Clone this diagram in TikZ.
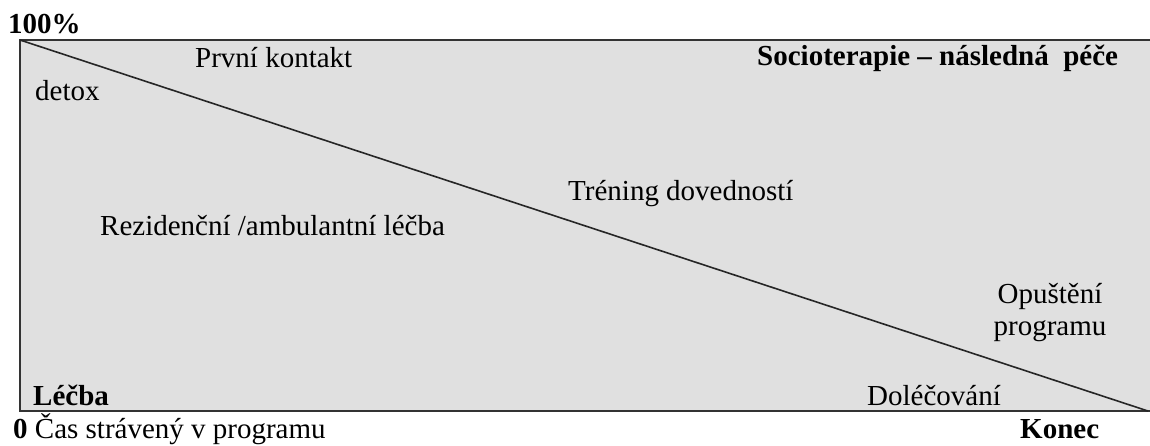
\documentclass[tikz,border=0pt]{standalone}
\usepackage{fontspec}
\setmainfont{Liberation Serif}
\begin{document}
\begin{tikzpicture}[x=1pt,y=-1pt,
  lbl/.style={inner sep=0pt, anchor=base west, font=\fontsize{29}{33}\selectfont},
  blbl/.style={inner sep=0pt, anchor=base west, font=\fontsize{29}{33}\selectfont\bfseries},
  border/.style={line width=1.6pt, draw=black!80},
  diag/.style={line width=1.6pt, draw=black!85}]
\useasboundingbox (0,0) rectangle (1150,445);
\fill[white] (0,0) rectangle (1150,445);
\coordinate (tl) at (20,40);
\coordinate (tr) at (1150,40);
\coordinate (bl) at (20,411);
\coordinate (br) at (1150,411);
\coordinate (end) at (1148,411);
\fill[fill={rgb,255:red,224;green,224;blue,224}] (tl) rectangle (br);
\draw[draw=black!12, line width=0.8pt] (1140,40) -- (1140,411);
\draw[border] (tr) -- (tl) -- (bl) -- (br);
\draw[diag] (tl) -- (end);
\node[blbl] (pct) at (8,33) {100\%};
\node[lbl] (kontakt) at (195,67) {První kontakt};
\node[lbl] (detox) at (35,100) {detox};
\node[blbl] (socio) at (757,65) {Socioterapie – následná \ péče};
\node[lbl] (trening) at (568,200) {Tréning dovedností};
\node[lbl] (rezid) at (100,235) {Rezidenční /ambulantní léčba};
\node[lbl, anchor=base] (opust) at (1050,303) {Opuštění};
\node[lbl, anchor=base] (progr) at (1050,335) {programu};
\node[lbl] (doleco) at (867,405) {Doléčování};
\node[blbl] (lecba) at (33,405) {Léčba};
\node[lbl] (cas) at (13,438) {\textbf{0} Čas strávený v programu};
\node[blbl] (konec) at (1020,438) {Konec};
\end{tikzpicture}
\end{document}
